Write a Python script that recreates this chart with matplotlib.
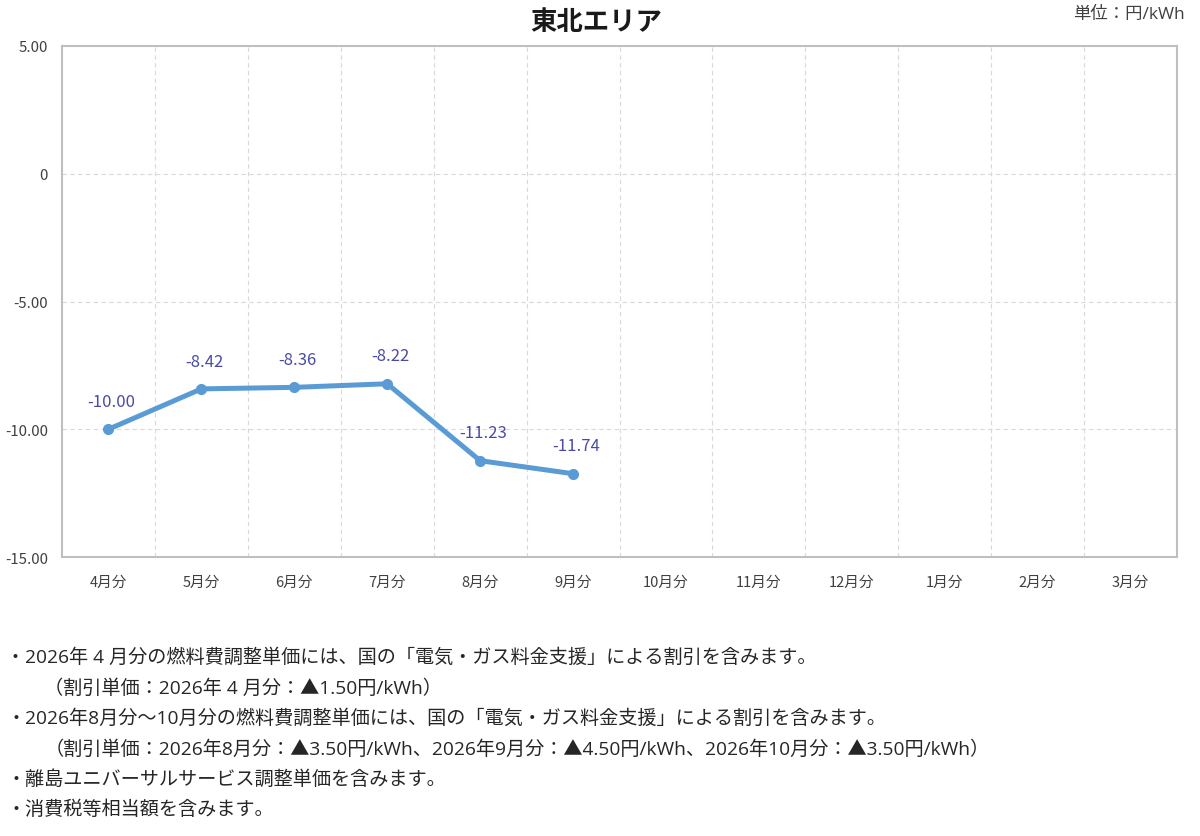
import numpy as np
import matplotlib.pyplot as plt

plt.rcParams['font.family'] = ['Noto Sans CJK JP', 'DejaVu Sans']

# data
months = ["4月分", "5月分", "6月分", "7月分", "8月分", "9月分",
          "10月分", "11月分", "12月分", "1月分", "2月分", "3月分"]
values = [-10.00, -8.42, -8.36, -8.22, -11.23, -11.74]
yticks = [5, 0, -5, -10, -15]
ytick_labels = ["5.00", "0", "-5.00", "-10.00", "-15.00"]

notes = [
    ("・2026年 4 月分の燃料費調整単価には、国の「電気・ガス料金支援」による割引を含みます。", 0.005),
    ("（割引単価：2026年 4 月分：▲1.50円/kWh）", 0.037),
    ("・2026年8月分～10月分の燃料費調整単価には、国の「電気・ガス料金支援」による割引を含みます。", 0.005),
    ("（割引単価：2026年8月分：▲3.50円/kWh、2026年9月分：▲4.50円/kWh、2026年10月分：▲3.50円/kWh）", 0.037),
    ("・離島ユニバーサルサービス調整単価を含みます。", 0.005),
    ("・消費税等相当額を含みます。", 0.005),
]

line_color = "#5b9bd5"
label_color = "#4a4aa8"
grid_color = "#d9d9d9"
axis_color = "#bfbfbf"
note_font = ['Open Sans', 'Noto Sans CJK JP', 'DejaVu Sans']

fig = plt.figure(figsize=(12, 8.37), dpi=100)
ax = fig.add_axes([62 / 1200, 279 / 837, 1115 / 1200, 511 / 837])

x = np.arange(len(months))
ax.plot(x[:len(values)], values, color=line_color, linewidth=3.6,
        marker="o", markersize=7, solid_capstyle="round", zorder=3)

for xi, v in zip(x, values):
    ax.annotate(f"{v:.2f}", (xi, v), xytext=(2, 20), textcoords="offset points",
                ha="center", va="center", fontsize=12, color=label_color)

ax.set_xlim(-0.5, len(months) - 0.5)
ax.set_ylim(-15, 5)
ax.set_xticks(x)
ax.set_xticklabels(months, fontsize=10.5, color="#404040")
ax.set_yticks(yticks)
ax.set_yticklabels(ytick_labels, fontsize=10.8, color="#404040")
ax.tick_params(axis="x", length=0, pad=13)
ax.tick_params(axis="y", length=0, pad=10)

# grid: horizontal at ticks, vertical at category boundaries
for y in yticks[1:-1]:
    ax.axhline(y, color=grid_color, linestyle=(0, (4, 3)), linewidth=0.8, zorder=1)
for b in np.arange(0.5, len(months) - 0.5, 1):
    ax.axvline(b, color=grid_color, linestyle=(0, (4, 3)), linewidth=0.8, zorder=1)

for s in ax.spines.values():
    s.set_color(axis_color)
    s.set_linewidth(1.5)

fig.text(0.497, 1 - 22 / 837, "東北エリア", ha="center", va="center",
         fontsize=19, fontweight="bold", color="#1a1a1a")
fig.text(0.9875, 1 - 15 / 837, "単位：円/kWh", ha="right", va="center",
         fontsize=12.5, color="#404040", family=note_font)

y0 = 658
for i, (t, xpos) in enumerate(notes):
    fig.text(xpos, 1 - (y0 + i * 30.4) / 837, t, ha="left", va="center",
             fontsize=13.8, color="#262626", family=note_font)

fig.savefig("out.png", dpi=100)
